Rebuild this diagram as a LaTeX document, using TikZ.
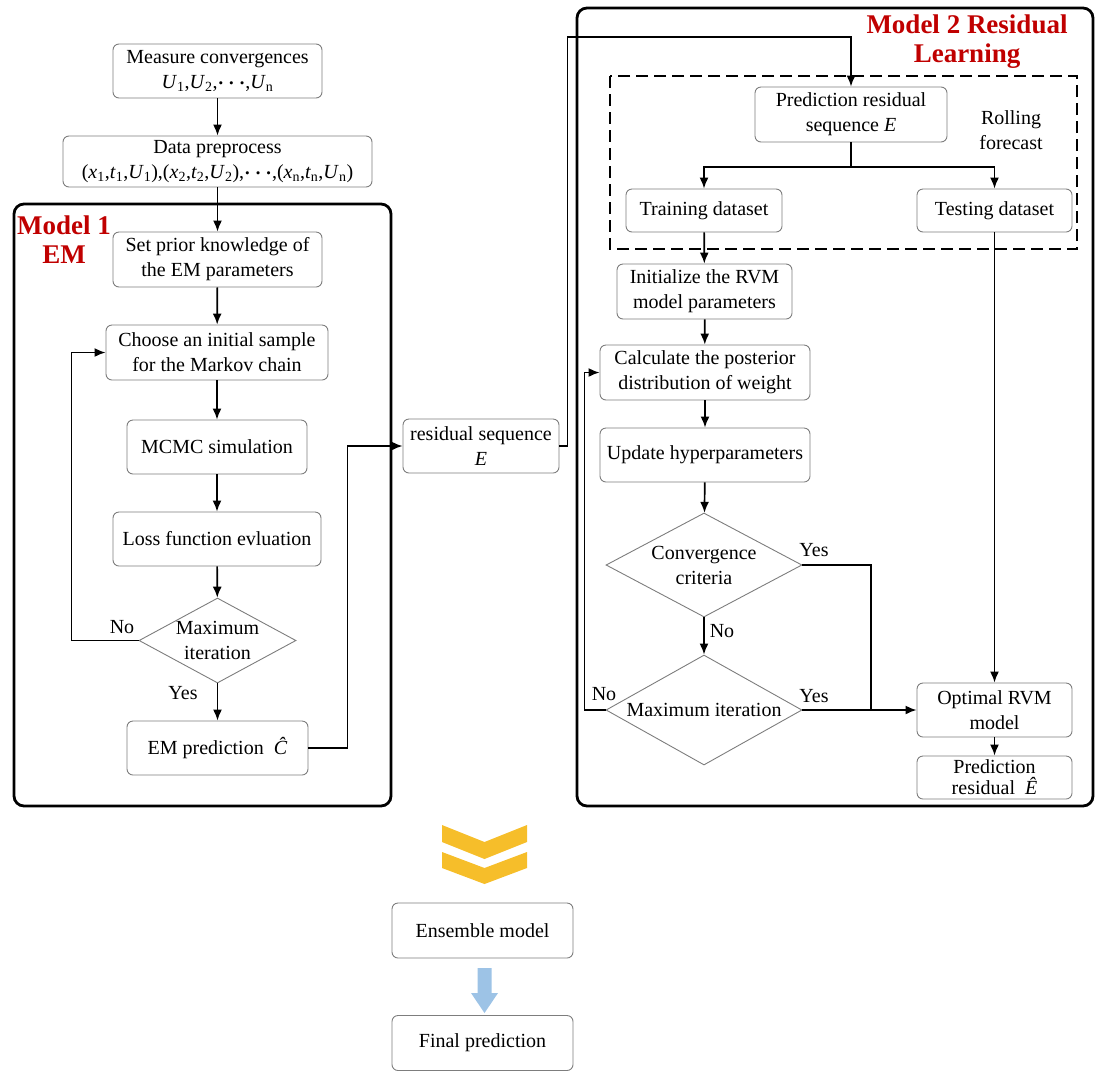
\documentclass[tikz,border=0pt]{standalone}
\usepackage{fontspec}
\setmainfont{Liberation Serif}
\usetikzlibrary{shapes.geometric,arrows.meta}
\definecolor{boxgray}{RGB}{125,125,125}
\definecolor{titlered}{RGB}{192,0,0}
\definecolor{chevgold}{RGB}{246,190,42}
\definecolor{lblue}{RGB}{157,195,230}
\newcommand{\vU}[1]{\textit{U}\textsubscript{#1}}
\newcommand{\vX}[1]{\textit{x}\textsubscript{#1}}
\newcommand{\vT}[1]{\textit{t}\textsubscript{#1}}
\newcommand{\bdots}{{\boldmath$\cdots$}}
\begin{document}
\begin{tikzpicture}[x=1pt,y=-1pt,
  box/.style={draw=boxgray, line width=0.9pt, rounded corners=6pt, align=center, inner sep=0pt, font=\fontsize{20}{25}\selectfont},
  dia/.style={draw=boxgray, line width=0.9pt, diamond, inner sep=0pt},
  lbl/.style={font=\fontsize{20}{25}\selectfont, inner sep=0pt, align=center},
  arr/.style={line width=1.7pt, -{Latex[length=11pt,width=9pt]}},
  ln/.style={line width=1.7pt},
  frame/.style={line width=2.8pt, rounded corners=10pt},
  title/.style={text=titlered, font=\fontsize{27}{29}\selectfont\bfseries, align=center, inner sep=0pt}
]
\useasboundingbox (0,0) rectangle (1100,1080);

% frames
\draw[frame] (14,204) rectangle (391,806);
\draw[frame] (577,8) rectangle (1093,806);
\draw[line width=1.3pt, dash pattern=on 12pt off 6pt] (610,76) rectangle (1077,249);

\node[title] (t1) at (64,240) {Model 1\\EM};
\node[title] (t2) at (967,42) {Model 2 Residual\\Learning};

% left column
\node[box, minimum width=209, minimum height=54] (m) at (217.5,71) {Measure convergences\\\vU{1},\vU{2},\bdots,\vU{n}};
\node[box, minimum width=309, minimum height=51] (dp) at (217.5,161.5) {Data preprocess\\(\vX{1},\vT{1},\vU{1}),(\vX{2},\vT{2},\vU{2}),\bdots,(\vX{n},\vT{n},\vU{n})};
\node[box, minimum width=209, minimum height=55] (prior) at (217.5,259.5) {Set prior knowledge of\\the EM parameters};
\node[box, minimum width=222, minimum height=55] (choose) at (217,352.5) {Choose an initial sample\\for the Markov chain};
\node[box, minimum width=180, minimum height=54] (mcmc) at (217,447) {MCMC simulation};
\node[box, minimum width=208, minimum height=54] (loss) at (217,539) {Loss function evluation};
\node[dia, minimum width=157, minimum height=85] (d1) at (217.5,640.5) {};
\node[lbl] (d1t) at (d1) {Maximum\\iteration};
\node[box, minimum width=181, minimum height=54] (emp) at (217.5,748) {EM prediction\ \ \textit{\^{C}}};

\node[box, minimum width=156, minimum height=54] (res) at (481,446) {residual sequence\\\textit{E}};

% right column
\node[box, minimum width=192, minimum height=55] (pr) at (851,114.5) {Prediction residual\\sequence \textit{E}};
\node[lbl] (roll) at (1011,130) {Rolling\\forecast};
\node[box, minimum width=156, minimum height=43] (train) at (704,210.5) {Training dataset};
\node[box, minimum width=155, minimum height=43] (test) at (994.5,210.5) {Testing dataset};
\node[box, minimum width=175, minimum height=55] (init) at (704.5,291.5) {Initialize the RVM\\model parameters};
\node[box, minimum width=210, minimum height=55] (post) at (705,372.5) {Calculate the posterior\\distribution of weight};
\node[box, minimum width=210, minimum height=54] (upd) at (705,455) {Update hyperparameters};
\node[dia, minimum width=196, minimum height=104] (d3) at (704,565) {};
\node[lbl] (d3t) at (d3) {Convergence\\criteria};
\node[dia, minimum width=196, minimum height=110] (d4) at (704,710) {};
\node[lbl] (d4t) at (d4) {Maximum iteration};
\node[box, minimum width=155, minimum height=54] (opt) at (994.5,710) {Optimal RVM\\model};
\node[box, minimum width=155, minimum height=43, font=\fontsize{20}{21}\selectfont] (pe) at (994.5,777.5) {Prediction\\residual \ \textit{\^{E}}};

% bottom
\fill[chevgold] (442,825) -- (484.5,842) -- (527,825) -- (527,842) -- (484.5,859) -- (442,842) -- cycle;
\fill[chevgold] (442,852) -- (484.5,868) -- (527,852) -- (527,868) -- (484.5,884) -- (442,868) -- cycle;
\node[box, minimum width=181, minimum height=55] (ens) at (482.5,930.5) {Ensemble model};
\fill[lblue] (477.5,968) -- (491.5,968) -- (491.5,993) -- (498,993) -- (484.5,1013) -- (471,993) -- (477.5,993) -- cycle;
\node[box, minimum width=181, minimum height=55] (fin) at (482.5,1043) {Final prediction};

% left connectors
\draw[arr] (m) -- (dp);
\draw[arr] (dp) -- (prior);
\draw[arr] (prior) -- (choose);
\draw[arr] (choose) -- (mcmc);
\draw[arr] (mcmc) -- (loss);
\draw[arr] (loss) -- (d1);
\draw[arr] (d1) -- (emp);
\draw[arr] (d1.west) -- ++(-67,0) |- (choose.west);
\node[lbl] (no1) at (122,627) {No};
\node[lbl] (yes1) at (183,693) {Yes};
\draw[arr] (emp.east) -- ++(39,0) |- (res.west);

% residual to model 2
\coordinate (top) at (851,37);
\draw[arr] (res.east) -- ++(8,0) |- (top) -- (pr.north);
\coordinate (sp) at (851,167);
\draw[ln] (pr.south) -- (sp);
\draw[arr] (sp) -| (train.north);
\draw[arr] (sp) -| (test.north);
\draw[arr] (train) -- (init);
\draw[arr] (init) -- (post);
\draw[arr] (post) -- (upd);
\draw[arr] (upd) -- (d3);
\draw[arr] (d3) -- (d4);
\coordinate (j) at (871,710);
\draw[ln] (d3.east) -| (j);
\draw[arr] (d4.east) -- (opt.west);
\draw[arr] (d4.west) -- ++(-21,0) |- (post.west);
\draw[arr] (test) -- (opt);
\draw[arr] (opt) -- (pe);
\node[lbl] (yes3) at (814,550) {Yes};
\node[lbl] (no3) at (722,631) {No};
\node[lbl] (yes4) at (814,696) {Yes};
\node[lbl] (no4) at (604,694) {No};
\end{tikzpicture}
\end{document}
